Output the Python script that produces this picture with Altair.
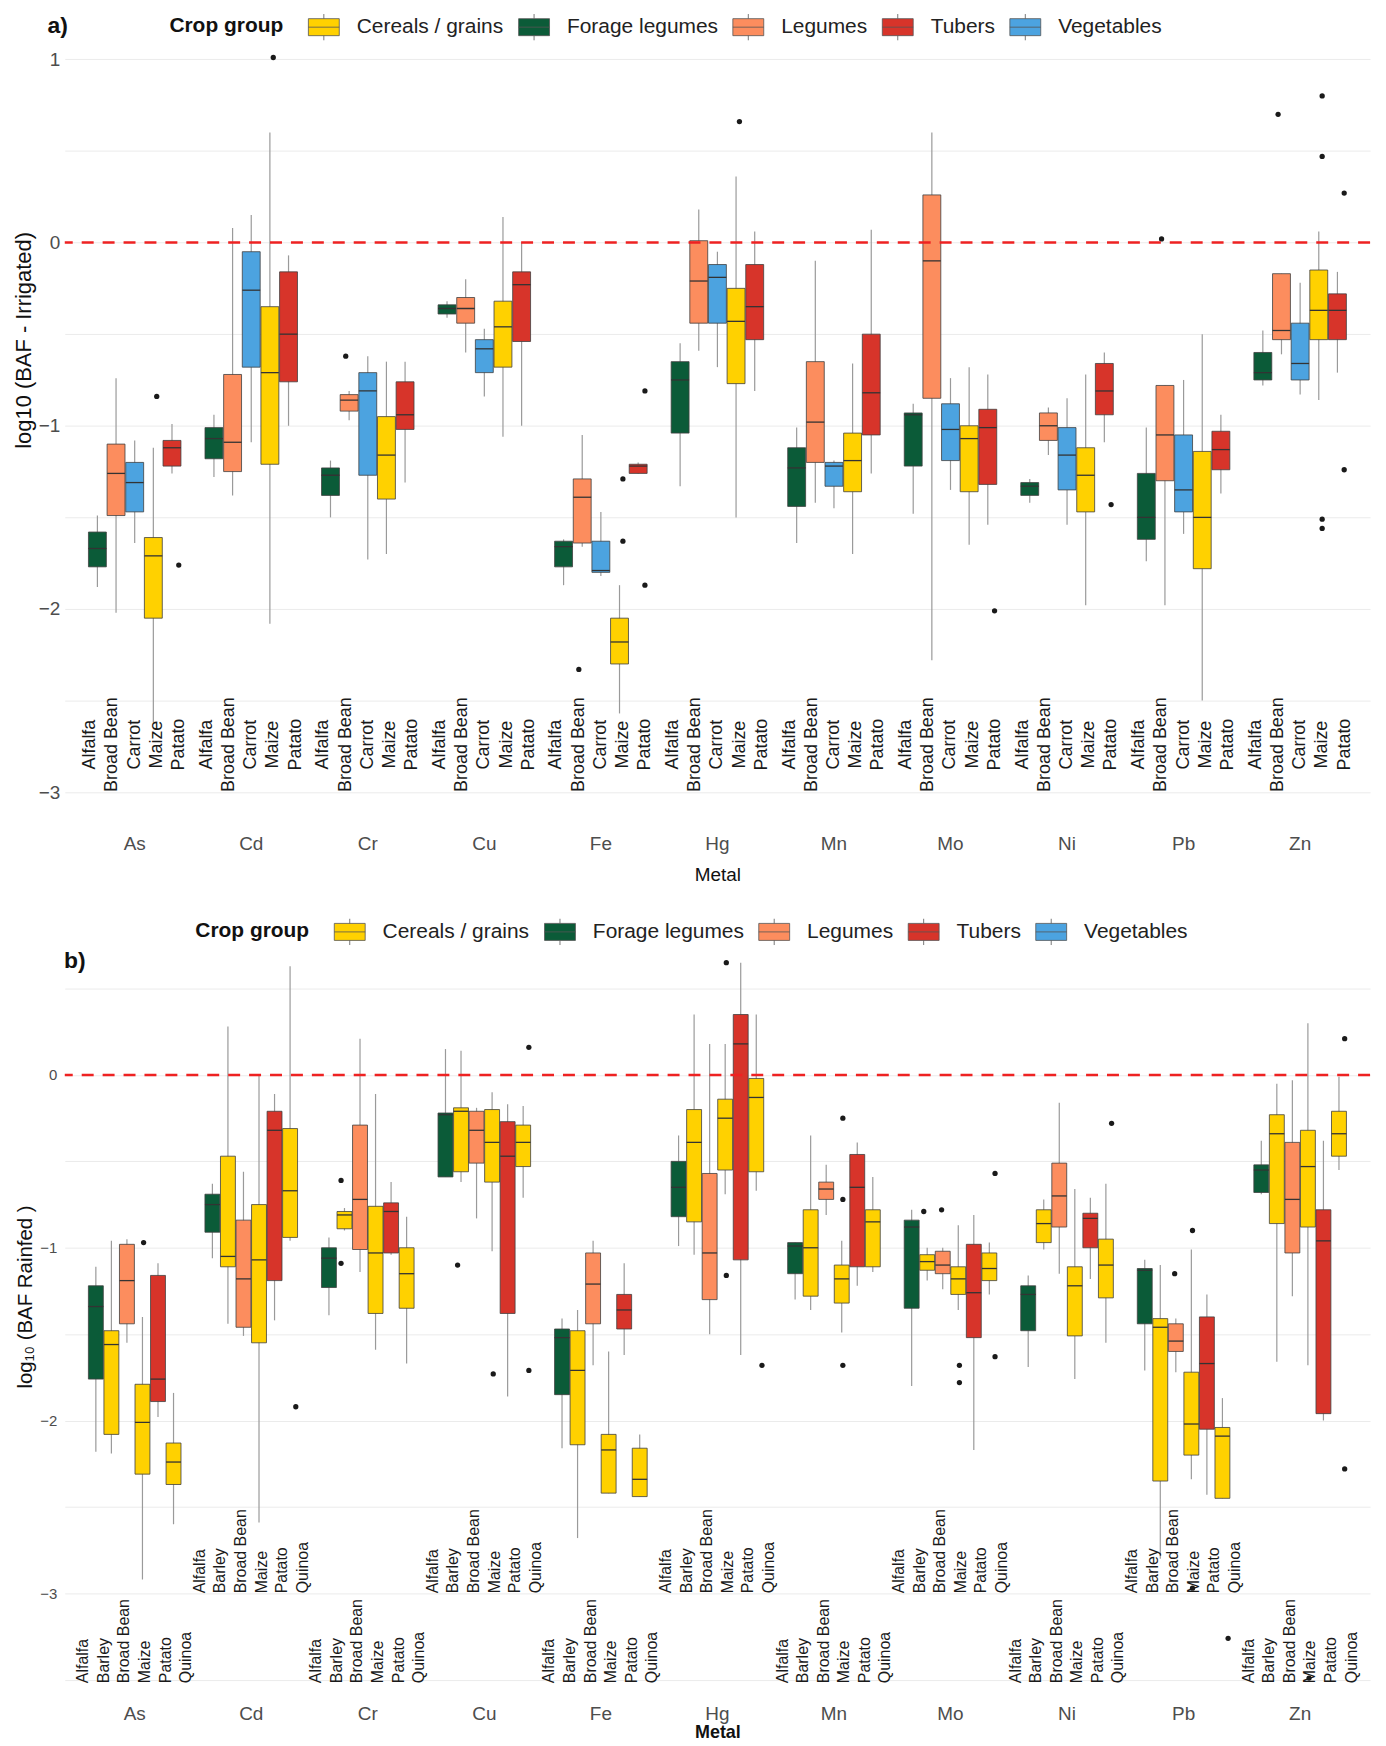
import altair as alt
import pandas as pd

METALS = ["As", "Cd", "Cr", "Cu", "Fe", "Hg", "Mn", "Mo", "Ni", "Pb", "Zn"]
GROUPS = ["Cereals / grains", "Forage legumes", "Legumes", "Tubers", "Vegetables"]
GROUP_COLORS = ["#FFD100", "#0B5B38", "#FC8D5E", "#D7342A", "#4CA3E0"]
CROP_GROUP = {
    "Alfalfa": "Forage legumes",
    "Barley": "Cereals / grains",
    "Broad Bean": "Legumes",
    "Carrot": "Vegetables",
    "Maize": "Cereals / grains",
    "Patato": "Tubers",
    "Quinoa": "Cereals / grains",
}

# ---- Irrigated: rows follow METALS, columns follow IRR_CROPS (log10 BAF) ----
IRR_CROPS = ["Alfalfa", "Broad Bean", "Carrot", "Maize", "Patato"]
IRR_LOW = [
    [-1.88, -2.02, -1.64, -2.62, -1.26],
    [-1.28, -1.38, -1.09, -2.08, -1.00],
    [-1.50, -0.97, -1.73, -1.70, -1.31],
    [-0.41, -0.60, -0.84, -1.06, -1.00],
    [-1.87, -1.66, -1.82, -2.57, -1.26],
    [-1.33, -0.59, -0.68, -1.50, -0.81],
    [-1.64, -1.42, -1.45, -1.70, -1.26],
    [-1.48, -2.28, -1.35, -1.65, -1.54],
    [-1.42, -1.16, -1.54, -1.98, -1.09],
    [-1.74, -1.98, -1.59, -2.50, -1.37],
    [-0.78, -0.61, -0.83, -0.86, -0.71],
]
IRR_Q1 = [
    [-1.77, -1.49, -1.47, -2.05, -1.22],
    [-1.18, -1.25, -0.68, -1.21, -0.76],
    [-1.38, -0.92, -1.27, -1.40, -1.02],
    [-0.39, -0.44, -0.71, -0.68, -0.54],
    [-1.77, -1.64, -1.80, -2.30, -1.26],
    [-1.04, -0.44, -0.44, -0.77, -0.53],
    [-1.44, -1.20, -1.33, -1.36, -1.05],
    [-1.22, -0.85, -1.19, -1.36, -1.32],
    [-1.38, -1.08, -1.35, -1.47, -0.94],
    [-1.62, -1.30, -1.47, -1.78, -1.24],
    [-0.75, -0.53, -0.75, -0.53, -0.53],
]
IRR_MED = [
    [-1.67, -1.26, -1.31, -1.71, -1.12],
    [-1.07, -1.09, -0.26, -0.71, -0.50],
    [-1.27, -0.86, -0.81, -1.16, -0.94],
    [-0.36, -0.36, -0.58, -0.46, -0.23],
    [-1.66, -1.39, -1.79, -2.18, -1.22],
    [-0.75, -0.21, -0.19, -0.43, -0.35],
    [-1.23, -0.98, -1.22, -1.19, -0.82],
    [-0.94, -0.10, -1.02, -1.07, -1.01],
    [-1.33, -1.00, -1.16, -1.27, -0.81],
    [-1.50, -1.05, -1.35, -1.50, -1.13],
    [-0.71, -0.48, -0.66, -0.37, -0.37],
]
IRR_Q3 = [
    [-1.58, -1.10, -1.20, -1.61, -1.08],
    [-1.01, -0.72, -0.05, -0.35, -0.16],
    [-1.23, -0.83, -0.71, -0.95, -0.76],
    [-0.34, -0.30, -0.53, -0.32, -0.16],
    [-1.63, -1.29, -1.63, -2.05, -1.21],
    [-0.65, 0.01, -0.12, -0.25, -0.12],
    [-1.12, -0.65, -1.20, -1.04, -0.50],
    [-0.93, 0.26, -0.88, -1.00, -0.91],
    [-1.31, -0.93, -1.01, -1.12, -0.66],
    [-1.26, -0.78, -1.05, -1.14, -1.03],
    [-0.60, -0.17, -0.44, -0.15, -0.28],
]
IRR_HIGH = [
    [-1.49, -0.74, -1.08, -1.12, -0.99],
    [-0.94, 0.08, 0.15, 0.60, -0.07],
    [-1.19, -0.81, -0.62, -0.65, -0.65],
    [-0.32, -0.20, -0.47, 0.14, 0.00],
    [-1.62, -1.05, -1.47, -1.87, -1.20],
    [-0.55, 0.18, -0.05, 0.36, 0.06],
    [-1.01, -0.10, -1.19, -0.66, 0.07],
    [-0.88, 0.60, -0.74, -0.68, -0.72],
    [-1.29, -0.90, -0.85, -0.72, -0.60],
    [-1.01, -0.78, -0.75, -0.50, -0.94],
    [-0.48, -0.17, -0.22, 0.06, -0.16],
]
IRR_OUTLIERS = [
    ("As", "Maize", -0.84), ("As", "Patato", -1.76),
    ("Cd", "Maize", 1.01),
    ("Cr", "Broad Bean", -0.62),
    ("Fe", "Broad Bean", -2.33), ("Fe", "Maize", -1.29), ("Fe", "Maize", -1.63),
    ("Fe", "Patato", -0.81), ("Fe", "Patato", -1.87),
    ("Hg", "Maize", 0.66),
    ("Mo", "Patato", -2.01),
    ("Ni", "Patato", -1.43),
    ("Pb", "Broad Bean", 0.02),
    ("Zn", "Broad Bean", 0.70), ("Zn", "Maize", 0.80), ("Zn", "Maize", 0.47),
    ("Zn", "Maize", -1.51), ("Zn", "Maize", -1.56),
    ("Zn", "Patato", 0.27), ("Zn", "Patato", -1.24),
]

# ---- Rainfed: rows follow METALS, columns follow RAIN_CROPS (log10 BAF) ----
RAIN_CROPS = ["Alfalfa", "Barley", "Broad Bean", "Maize", "Patato", "Quinoa"]
RAIN_LOW = [
    [-2.18, -2.19, -1.55, -2.92, -1.98, -2.60],
    [-1.06, -1.44, -1.51, -2.59, -1.42, -0.96],
    [-1.39, -0.90, -1.14, -1.59, -1.04, -1.67],
    [-0.59, -0.62, -0.83, -1.02, -1.86, -0.71],
    [-2.16, -2.68, -1.68, -2.42, -1.62, -2.44],
    [-0.99, -1.04, -1.50, -0.69, -1.62, -0.67],
    [-1.30, -1.36, -0.81, -1.49, -1.22, -1.14],
    [-1.80, -1.19, -1.24, -1.36, -2.17, -1.27],
    [-1.69, -1.01, -1.15, -1.76, -1.18, -1.55],
    [-1.71, -2.80, -1.72, -2.34, -2.43, -2.45],
    [-0.69, -1.66, -1.28, -1.68, -2.00, -0.55],
]
RAIN_Q1 = [
    [-1.76, -2.08, -1.44, -2.31, -1.89, -2.37],
    [-0.91, -1.11, -1.46, -1.55, -1.19, -0.94],
    [-1.23, -0.89, -1.01, -1.38, -1.03, -1.35],
    [-0.59, -0.56, -0.51, -0.62, -1.38, -0.53],
    [-1.85, -2.14, -1.44, -2.42, -1.47, -2.44],
    [-0.82, -0.85, -1.30, -0.55, -1.07, -0.56],
    [-1.15, -1.28, -0.72, -1.32, -1.11, -1.11],
    [-1.35, -1.13, -1.15, -1.27, -1.52, -1.19],
    [-1.48, -0.97, -0.88, -1.51, -1.00, -1.29],
    [-1.44, -2.35, -1.60, -2.20, -2.05, -2.45],
    [-0.68, -0.86, -1.03, -0.88, -1.96, -0.47],
]
RAIN_MED = [
    [-1.34, -1.56, -1.19, -2.01, -1.76, -2.24],
    [-0.75, -1.05, -1.18, -1.07, -0.32, -0.67],
    [-1.06, -0.81, -0.72, -1.03, -0.79, -1.15],
    [-0.23, -0.21, -0.32, -0.39, -0.47, -0.39],
    [-1.52, -1.71, -1.21, -2.17, -1.36, -2.34],
    [-0.65, -0.39, -1.03, -0.25, 0.18, -0.13],
    [-0.99, -1.00, -0.66, -1.18, -0.65, -0.85],
    [-0.88, -1.08, -1.10, -1.18, -1.26, -1.12],
    [-1.27, -0.86, -0.70, -1.22, -0.83, -1.10],
    [-1.13, -1.46, -1.54, -2.02, -1.67, -2.09],
    [-0.55, -0.34, -0.72, -0.53, -0.96, -0.34],
]
RAIN_Q3 = [
    [-1.22, -1.48, -0.98, -1.79, -1.16, -2.13],
    [-0.69, -0.47, -0.84, -0.75, -0.21, -0.31],
    [-1.00, -0.79, -0.29, -0.76, -0.74, -1.00],
    [-0.22, -0.19, -0.21, -0.20, -0.27, -0.29],
    [-1.47, -1.48, -1.03, -2.08, -1.27, -2.16],
    [-0.50, -0.20, -0.57, -0.14, 0.35, -0.02],
    [-0.97, -0.78, -0.62, -1.10, -0.46, -0.78],
    [-0.84, -1.04, -1.02, -1.11, -0.98, -1.03],
    [-1.22, -0.78, -0.51, -1.11, -0.80, -0.95],
    [-1.12, -1.41, -1.44, -1.72, -1.40, -2.04],
    [-0.52, -0.23, -0.39, -0.32, -0.78, -0.21],
]
RAIN_HIGH = [
    [-1.11, -0.96, -0.95, -1.40, -1.09, -1.84],
    [-0.63, 0.28, -0.56, 0.00, -0.11, 0.63],
    [-0.94, -0.77, 0.21, -0.11, -0.62, -0.82],
    [0.15, 0.14, -0.19, -0.10, -0.17, -0.18],
    [-1.41, -1.36, -0.96, -1.60, -1.09, -2.08],
    [-0.35, 0.35, 0.18, 0.18, 0.65, 0.35],
    [-0.97, -0.35, -0.52, -0.96, -0.39, -0.59],
    [-0.78, -1.00, -1.00, -0.87, -0.81, -0.97],
    [-1.16, -0.72, -0.16, -0.66, -0.71, -0.63],
    [-1.07, -1.10, -1.41, -1.01, -1.27, -1.87],
    [-0.38, -0.05, -0.03, 0.30, -0.38, -0.01],
]
RAIN_OUTLIERS = [
    ("As", "Maize", -0.97),
    ("Cd", "Quinoa", -1.92),
    ("Cr", "Barley", -0.61), ("Cr", "Barley", -1.09),
    ("Cu", "Barley", -1.10), ("Cu", "Maize", -1.73),
    ("Cu", "Quinoa", 0.16), ("Cu", "Quinoa", -1.71),
    ("Hg", "Maize", 0.65), ("Hg", "Maize", -1.16), ("Hg", "Quinoa", -1.68),
    ("Mn", "Maize", -0.25), ("Mn", "Maize", -0.72), ("Mn", "Maize", -1.68),
    ("Mo", "Barley", -0.79), ("Mo", "Broad Bean", -0.78),
    ("Mo", "Maize", -1.68), ("Mo", "Maize", -1.78),
    ("Mo", "Quinoa", -0.57), ("Mo", "Quinoa", -1.63),
    ("Ni", "Quinoa", -0.28),
    ("Pb", "Broad Bean", -1.15), ("Pb", "Maize", -0.90), ("Pb", "Maize", -2.97),
    ("Pb", "Quinoa", -3.26),
    ("Zn", "Maize", -3.49), ("Zn", "Quinoa", 0.21), ("Zn", "Quinoa", -2.28),
]
# metals whose crop names sit on the upper label row in the rainfed panel
RAIN_UPPER_ROW = ["Cd", "Cu", "Hg", "Mo", "Pb"]

PLOT_W = 1310
STEP = PLOT_W / (len(METALS) + 0.2)
BOX_PAD_IN = 0.04
LEGEND_SYMBOL = "M-1,-0.55H1V0.55H-1Z M-1,0H1 M0,-0.55V-0.85 M0,0.55V0.85"


def box_table(crops, low, q1, med, q3, high):
    rows = []
    for i, metal in enumerate(METALS):
        for j, crop in enumerate(crops):
            rows.append({
                "metal": metal, "crop": crop, "group": CROP_GROUP[crop],
                "low": low[i][j], "q1": q1[i][j], "med": med[i][j],
                "q3": q3[i][j], "high": high[i][j],
            })
    return pd.DataFrame(rows)


def outlier_table(points):
    return pd.DataFrame(points, columns=["metal", "crop", "value"])


def make_panel(boxes, outliers, crops, cfg):
    n = len(crops)
    box_pad_out = (1 / cfg["box_step"] - n + BOX_PAD_IN) / 2
    lab_pad_out = (1 / cfg["label_step"] - n) / 2
    box_w = STEP * cfg["box_step"] * (1 - BOX_PAD_IN)

    x = alt.X(
        "metal:N", sort=METALS,
        scale=alt.Scale(domain=METALS, paddingInner=0, paddingOuter=0.1),
        axis=alt.Axis(
            title="Metal", labelAngle=0, ticks=False, domain=False, grid=False,
            labelFontSize=19, labelColor="#4d4d4d", labelPadding=cfg["xlab_pad"],
            titleFontSize=cfg["xtitle_size"],
            titleFontWeight=cfg["xtitle_weight"], titleColor="#111111",
            titlePadding=cfg["xtitle_pad"],
        ),
    )
    xo_box = alt.XOffset(
        "crop:N", sort=crops,
        scale=alt.Scale(domain=crops, paddingInner=BOX_PAD_IN, paddingOuter=box_pad_out),
    )
    xo_lab = alt.XOffset(
        "crop:N", sort=crops,
        scale=alt.Scale(domain=crops, paddingInner=0, paddingOuter=lab_pad_out),
    )
    yscale = alt.Scale(domain=cfg["domain"], nice=False, zero=False)
    yaxis = alt.Axis(
        values=cfg["grid"],
        labelExpr="datum.value % 1 === 0 ? format(datum.value, 'd') : ''",
        title=cfg["ytitle"], titleFontSize=cfg["ytitle_size"], titleFontWeight="normal",
        titleColor="#111111", titleX=-29, titleY=cfg["ytitle_y"], titleAlign="center",
        titleBaseline="bottom", titleAngle=270,
        labelFontSize=cfg["ylab_size"], labelColor="#4d4d4d", labelPadding=cfg["ylab_pad"],
        ticks=False, domain=False, grid=True, gridColor="#EBEBEB", gridWidth=1,
    )

    def y(field):
        return alt.Y(f"{field}:Q", scale=yscale, axis=yaxis)

    legend = alt.Legend(
        orient="none", legendX=cfg["legend_x"], legendY=cfg["legend_y"],
        direction="horizontal", title="Crop group", titleOrient="left",
        titleFontSize=21, titleFontWeight="bold", titleColor="#111111",
        titlePadding=24, titleAnchor="middle", titleBaseline="middle",
        labelFontSize=21, labelColor="#222222", labelOffset=17, columnPadding=12,
        symbolType=LEGEND_SYMBOL, symbolSize=961, symbolStrokeColor="#555555",
        symbolStrokeWidth=0.8, symbolOpacity=1,
    )

    base = alt.Chart(boxes)
    whiskers = base.mark_rule(color="#9a9a9a", strokeWidth=1.2).encode(
        x=x, xOffset=xo_box, y=y("low"), y2=alt.Y2("high:Q")
    )
    bodies = base.mark_bar(stroke="#404040", strokeWidth=0.8, opacity=1).encode(
        x=x, xOffset=xo_box, y=y("q1"), y2=alt.Y2("q3:Q"),
        color=alt.Color("group:N", scale=alt.Scale(domain=GROUPS, range=GROUP_COLORS),
                        legend=legend),
    )
    medians = base.mark_tick(color="#333333", thickness=1.3, size=box_w, opacity=1).encode(
        x=x, xOffset=xo_box, y=y("med")
    )
    points = alt.Chart(outliers).mark_circle(size=28, color="#1a1a1a", opacity=1).encode(
        x=x, xOffset=xo_box, y=y("value")
    )

    label_layers = []
    for metals_in_row, y_val, align in cfg["label_rows"]:
        label_layers.append(
            base.transform_filter(alt.FieldOneOfPredicate(field="metal", oneOf=metals_in_row))
            .mark_text(angle=270, align=align, baseline="middle",
                       fontSize=cfg["crop_size"], color="#1a1a1a")
            .encode(x=x, xOffset=xo_lab, y=alt.YDatum(y_val, scale=yscale, axis=yaxis),
                    text="crop:N")
        )

    zero_line = alt.Chart(pd.DataFrame({"zero": [0.0]})).mark_rule(
        color="#EE2222", strokeWidth=2.5, strokeDash=[12, 9]
    ).encode(y=y("zero"))

    tag = alt.Chart(pd.DataFrame({"tag": [cfg["tag"]]})).mark_text(
        fontSize=23, fontWeight="bold", color="#111111", align="center", baseline="middle"
    ).encode(text="tag:N", x=alt.value(cfg["tag_xy"][0]), y=alt.value(cfg["tag_xy"][1]))

    return (
        alt.layer(whiskers, bodies, medians, points, *label_layers, zero_line, tag)
        .properties(width=PLOT_W, height=cfg["height"])
        .resolve_scale(xOffset="independent")
    )


irrigated = make_panel(
    box_table(IRR_CROPS, IRR_LOW, IRR_Q1, IRR_MED, IRR_Q3, IRR_HIGH),
    outlier_table(IRR_OUTLIERS),
    IRR_CROPS,
    {
        "box_step": 0.16, "label_step": 0.16,
        "domain": [-3.12, 1.1], "height": 776,
        "grid": [i / 2 for i in range(-6, 3)],
        "ytitle": "log10 (BAF - Irrigated)", "ytitle_size": 22, "ytitle_y": 300,
        "ylab_size": 19, "ylab_pad": 5,
        "xlab_pad": 20, "xtitle_size": 19, "xtitle_weight": "normal",
        "xtitle_pad": 13,
        "legend_x": 105, "legend_y": -30,
        "crop_size": 18,
        "label_rows": [(METALS, -2.74, "center")],
        "tag": "a)", "tag_xy": (-7, -15),
    },
)

rainfed = make_panel(
    box_table(RAIN_CROPS, RAIN_LOW, RAIN_Q1, RAIN_MED, RAIN_Q3, RAIN_HIGH),
    outlier_table(RAIN_OUTLIERS),
    RAIN_CROPS,
    {
        "box_step": 0.1333, "label_step": 0.15,
        "domain": [-3.6, 0.725], "height": 750,
        "grid": [i / 2 for i in range(-7, 2)],
        "ytitle": "log\u2081\u2080 (BAF Rainfed )", "ytitle_size": 20.5, "ytitle_y": 348,
        "ylab_size": 15, "ylab_pad": 8,
        "xlab_pad": 8, "xtitle_size": 18, "xtitle_weight": "bold",
        "xtitle_pad": 0,
        "legend_x": 131, "legend_y": -34,
        "crop_size": 16,
        "label_rows": [
            (RAIN_UPPER_ROW, -3.0, "left"),
            ([m for m in METALS if m not in RAIN_UPPER_ROW], -3.52, "left"),
        ],
        "tag": "b)", "tag_xy": (10, 11),
    },
)

chart = (
    alt.vconcat(irrigated, rainfed, spacing=31)
    .resolve_scale(color="independent", x="independent", y="independent",
                   xOffset="independent")
    .resolve_legend(color="independent")
    .properties(background="white",
                padding={"left": 13, "top": 8, "right": 14, "bottom": 0})
    .configure(font="Liberation Sans")
    .configure_view(stroke=None)
)

chart.save("out.html", embed_options={"renderer": "svg", "actions": False})
